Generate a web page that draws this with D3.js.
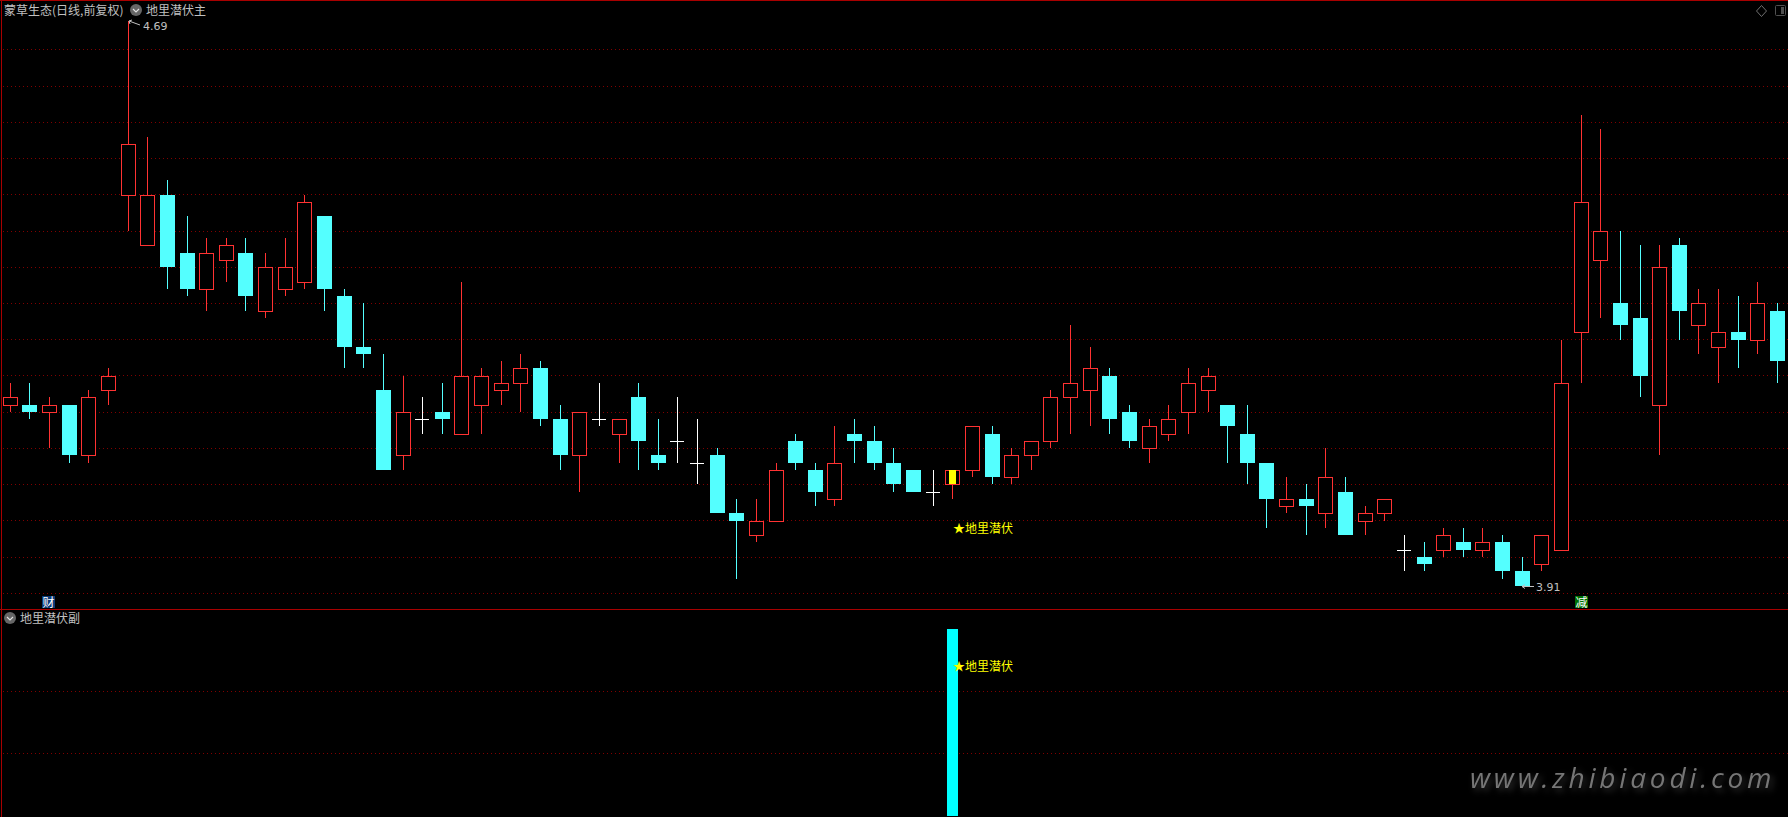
<!DOCTYPE html>
<html>
<head>
<meta charset="utf-8">
<title>蒙草生态</title>
<script src="https://cdn.jsdelivr.net/npm/d3@7"></script>
<style>
  html, body { margin: 0; padding: 0; background: #000; overflow: hidden; }
  svg { display: block; }
  text { font-family: "Noto Sans CJK SC", sans-serif; }
</style>
</head>
<body>
<svg width="1788" height="817"></svg>
<script>
var opens = [4.16,4.16,4.15,4.16,4.09,4.18,4.45,4.38,4.45,4.37,4.32,4.36,4.37,4.29,4.32,4.33,4.42,4.31,4.24,4.18,4.09,4.14,4.15,
  4.12,4.16,4.18,4.19,4.21,4.14,4.09,4.14,4.12,4.17,4.09,4.11,4.08,4.09,4.01,3.98,4.00,4.11,4.07,4.03,4.12,4.11,4.08,4.07,4.04,
  4.05,4.07,4.12,4.06,4.09,4.11,4.17,4.18,4.20,4.15,4.10,4.12,4.15,4.18,4.16,4.12,4.08,4.02,4.03,4.01,4.04,4.00,4.01,3.96,3.95,
  3.96,3.97,3.96,3.97,3.93,3.94,3.96,4.26,4.36,4.30,4.28,4.16,4.38,4.27,4.24,4.26,4.25,4.29];
var highs = [4.19,4.19,4.17,4.16,4.18,4.21,4.69,4.53,4.47,4.42,4.39,4.39,4.39,4.37,4.39,4.45,4.42,4.32,4.30,4.23,4.20,4.17,4.19,
  4.33,4.21,4.22,4.23,4.22,4.16,4.15,4.19,4.14,4.19,4.14,4.17,4.14,4.10,4.03,4.03,4.08,4.12,4.08,4.13,4.14,4.13,4.10,4.07,4.07,
  4.07,4.13,4.13,4.10,4.11,4.18,4.27,4.24,4.21,4.16,4.14,4.16,4.21,4.21,4.16,4.16,4.08,4.06,4.05,4.10,4.06,4.02,4.03,3.98,3.97,
  3.99,3.99,3.99,3.98,3.95,3.98,4.25,4.56,4.54,4.40,4.38,4.38,4.39,4.32,4.32,4.31,4.33,4.30];
var lows = [4.15,4.14,4.10,4.08,4.08,4.16,4.40,4.38,4.32,4.31,4.29,4.33,4.29,4.28,4.31,4.32,4.29,4.21,4.21,4.07,4.07,4.12,4.12,
  4.12,4.12,4.16,4.15,4.13,4.07,4.04,4.13,4.08,4.07,4.07,4.08,4.05,4.01,3.92,3.97,4.00,4.07,4.02,4.02,4.08,4.07,4.04,4.04,4.02,
  4.03,4.06,4.05,4.05,4.07,4.10,4.12,4.13,4.12,4.10,4.08,4.11,4.12,4.15,4.08,4.05,3.99,4.01,3.98,3.99,3.98,3.98,4.00,3.93,3.93,
  3.95,3.95,3.95,3.92,3.91,3.93,3.96,4.19,4.28,4.25,4.17,4.09,4.25,4.23,4.19,4.21,4.23,4.19];
var closes = [4.17,4.15,4.16,4.09,4.17,4.20,4.52,4.45,4.35,4.32,4.37,4.38,4.31,4.35,4.35,4.44,4.32,4.24,4.23,4.07,4.15,4.14,4.14,
  4.20,4.20,4.19,4.21,4.14,4.09,4.15,4.14,4.14,4.11,4.08,4.11,4.08,4.01,4.00,4.00,4.07,4.08,4.04,4.08,4.11,4.08,4.05,4.04,4.04,
  4.07,4.13,4.06,4.09,4.11,4.17,4.19,4.21,4.14,4.11,4.13,4.14,4.19,4.20,4.13,4.08,4.03,4.03,4.02,4.06,3.98,4.01,4.03,3.96,3.94,
  3.98,3.96,3.97,3.93,3.91,3.98,4.19,4.44,4.40,4.27,4.20,4.35,4.29,4.30,4.26,4.25,4.30,4.22];

var priceTicks = [3.90,3.95,4.00,4.05,4.10,4.15,4.20,4.25,4.30,4.35,4.40,4.45,4.50,4.55,4.60,4.65];
var signalBars = [{ index: 48, value: 3 }];
var signalTicks = [1, 2];

var markedIndex = 48;
var signalLabel = "★地里潜伏";
var stockTitle = "蒙草生态(日线,前复权)";
var mainTitle = "地里潜伏主";
var subTitle = "地里潜伏副";
var siteName = "www.zhibiaodi.com";

var RED = "#ff3232", CYAN = "#54ffff", WHITE = "#ffffff", FRAME = "#a80000", DOT = "#800000",
    GREY = "#c0c0c0", YELLOW = "#ffff00";

var svg = d3.select("svg");

// scales
var x = d3.scaleLinear().domain([0, opens.length - 1]).range([10.3, 1777.5]);
var y = d3.scaleLinear().domain([3.91, 4.69]).range([586, 21]);
var ySub = d3.scaleLinear().domain([0, 3]).range([816, 629]);

function px(v) { return Math.floor(v) + 0.5; }
// snap a price to its pixel row
function row(v) { return Math.floor(y(v) + 0.3); }
function candleColor(i) {
  if (opens[i] === closes[i]) return WHITE;
  return closes[i] > opens[i] ? RED : CYAN;
}

//////////// FRAME AND GRID ////////////
svg.append("g").selectAll("line")
    .data(priceTicks)
    .enter().append("line")
    .attr("x1", 3).attr("x2", 1788)
    .attr("y1", function(d) { return px(y(d)); })
    .attr("y2", function(d) { return px(y(d)); })
    .attr("stroke", DOT)
    .attr("stroke-dasharray", "1 3");

svg.append("g").selectAll("line")
    .data(signalTicks)
    .enter().append("line")
    .attr("x1", 3).attr("x2", 1788)
    .attr("y1", function(d) { return px(ySub(d)); })
    .attr("y2", function(d) { return px(ySub(d)); })
    .attr("stroke", DOT)
    .attr("stroke-dasharray", "1 3");

svg.append("line").attr("x1", 0).attr("x2", 1788).attr("y1", 0.5).attr("y2", 0.5).attr("stroke", FRAME);
svg.append("line").attr("x1", 0).attr("x2", 1788).attr("y1", 609.5).attr("y2", 609.5).attr("stroke", FRAME);
svg.append("line").attr("x1", 1.5).attr("x2", 1.5).attr("y1", 0).attr("y2", 817).attr("stroke", FRAME);

//////////// CANDLES ////////////
var candle = svg.append("g").selectAll("g")
    .data(d3.range(opens.length))
    .enter().append("g");

candle.append("line")
    .attr("x1", function(i) { return px(x(i)); })
    .attr("x2", function(i) { return px(x(i)); })
    .attr("y1", function(i) { return row(highs[i]); })
    .attr("y2", function(i) { return row(lows[i]); })
    .attr("stroke", candleColor);

candle.each(function(i) {
  var g = d3.select(this);
  var cx = Math.floor(x(i));
  var top = row(Math.max(opens[i], closes[i]));
  var bot = row(Math.min(opens[i], closes[i]));
  if (opens[i] === closes[i]) {
    g.append("line")
      .attr("x1", cx - 7).attr("x2", cx + 7)
      .attr("y1", top + 0.5).attr("y2", top + 0.5)
      .attr("stroke", WHITE);
  } else if (closes[i] > opens[i]) {
    g.append("rect")
      .attr("x", cx - 7 + 0.5).attr("y", top + 0.5)
      .attr("width", 14).attr("height", bot - top)
      .attr("fill", "#000").attr("stroke", RED);
  } else {
    g.append("rect")
      .attr("x", cx - 7).attr("y", top)
      .attr("width", 15).attr("height", bot - top)
      .attr("fill", CYAN);
  }
});

// yellow stick inside the signal candle
svg.append("rect")
    .attr("x", Math.floor(x(markedIndex)) - 3)
    .attr("y", row(closes[markedIndex]))
    .attr("width", 7)
    .attr("height", row(opens[markedIndex]) - row(closes[markedIndex]))
    .attr("fill", YELLOW);

//////////// LOWER PANEL ////////////
svg.append("g").selectAll("rect")
    .data(signalBars)
    .enter().append("rect")
    .attr("x", function(d) { return Math.floor(x(d.index)) - 5; })
    .attr("width", 11)
    .attr("y", function(d) { return ySub(d.value); })
    .attr("height", function(d) { return ySub(0) - ySub(d.value); })
    .attr("fill", "#00ffff");

//////////// TEXT ////////////
function label(txt, tx, ty, color, size) {
  return svg.append("text")
      .attr("x", tx).attr("y", ty)
      .attr("fill", color)
      .attr("font-size", size || 12)
      .attr("dominant-baseline", "central")
      .text(txt);
}

label(stockTitle, 4, 9, GREY, 12);
label(mainTitle, 146, 9, GREY, 12);
label(subTitle, 20, 617, GREY, 12);
label(signalLabel, 953, 527, YELLOW, 12);
label(signalLabel, 953, 665, YELLOW, 12);

// little round drop-down buttons
[[136, 10], [10, 618]].forEach(function(p) {
  svg.append("circle").attr("cx", p[0]).attr("cy", p[1]).attr("r", 6).attr("fill", "#666");
  svg.append("path")
    .attr("d", "M" + (p[0] - 3) + "," + (p[1] - 1) + "l3,3l3,-3")
    .attr("fill", "none").attr("stroke", "#e0e0e0").attr("stroke-width", 1.2);
});

// high and low price flags
var hx = Math.floor(x(d3.maxIndex(highs))), lx = Math.floor(x(d3.minIndex(lows)));
var hy = y(d3.max(highs)), ly = y(d3.min(lows));

svg.append("path")
    .attr("d", "M" + (hx + 1) + "," + hy + "l11,4M" + (hx + 1) + "," + hy + "l3,-1M" + (hx + 1) + "," + hy + "l1,3")
    .attr("fill", "none").attr("stroke", GREY);
label(d3.format(".2f")(d3.max(highs)), hx + 15, 26, GREY, 11).style("font-family", "'DejaVu Sans', sans-serif");

svg.append("path")
    .attr("d", "M" + lx + "," + (ly + 0.5) + "h12M" + lx + "," + (ly + 0.5) + "l3,-2M" + lx + "," + (ly + 0.5) + "l3,2")
    .attr("fill", "none").attr("stroke", GREY);
label(d3.format(".2f")(d3.min(lows)), lx + 14, 587, GREY, 11).style("font-family", "'DejaVu Sans', sans-serif");

// event tags at the bottom of the main panel
function tag(txt, tx, w, fill) {
  svg.append("rect").attr("x", tx).attr("y", 596).attr("width", w).attr("height", 12).attr("fill", fill);
  label(txt, tx + w / 2, 601, WHITE, 12).attr("text-anchor", "middle");
}
tag("财", 42, 13, "#0a3a78");
tag("减", 1575, 13, "#007000");

// top right icons
svg.append("path").attr("d", "M1761.5,5.5l5,5.5l-5,5.5l-5,-5.5z").attr("fill", "none").attr("stroke", "#707070");
svg.append("rect").attr("x", 1775.5).attr("y", 5.5).attr("width", 10).attr("height", 10).attr("rx", 1)
    .attr("fill", "none").attr("stroke", "#505050");
svg.append("rect").attr("x", 1781).attr("y", 7).attr("width", 3).attr("height", 7).attr("fill", "#505050");

// watermark
svg.append("text")
    .attr("x", 1470).attr("y", 788)
    .attr("font-size", 28)
    .attr("font-style", "italic")
    .attr("font-weight", 500)
    .attr("letter-spacing", 3.8)
    .attr("fill", "#767676")
    .style("font-family", "'Open Sans', sans-serif")
    .style("filter", "drop-shadow(3px 3px 3px #333)")
    .text(siteName);
</script>
</body>
</html>
